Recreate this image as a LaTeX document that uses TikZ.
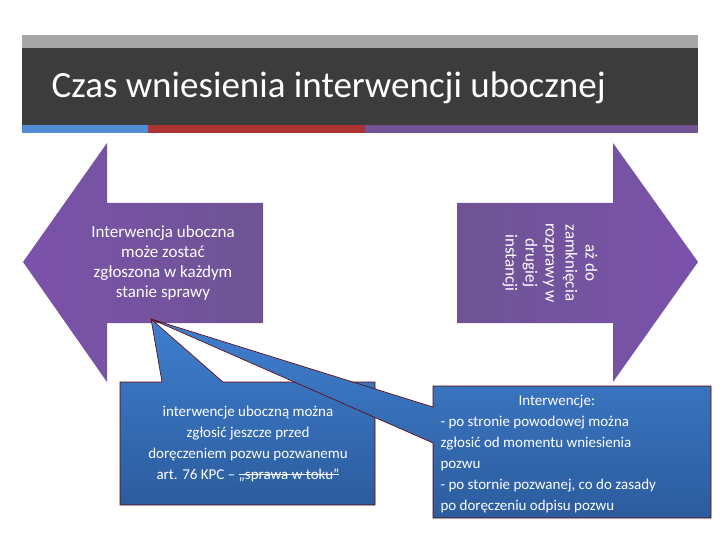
\documentclass[tikz,border=0pt]{standalone}
\usepackage{fontspec}
\setmainfont{Carlito}
\newlength\stklen
\newcommand\mystk[1]{\settowidth\stklen{#1}\rlap{\rule[0.6ex]{\stklen}{0.8pt}}#1}
\begin{document}
\begin{tikzpicture}[x=1pt,y=-1pt,
  txt/.style={text=white,align=center,font=\fontsize{17}{20}\selectfont}]
\useasboundingbox (0,0) rectangle (720,540);
\definecolor{pur}{HTML}{7B52AB}
\definecolor{purd}{HTML}{6E5494}
\definecolor{cbl}{HTML}{3F7FCF}
\definecolor{cbd}{HTML}{2C5C9E}
\definecolor{bar}{HTML}{3C3C3C}
\tikzset{callout/.style={top color=cbl,bottom color=cbd,draw=red!40!black,line width=0.6pt}}
% title bar
\fill[gray!70] (22,35) rectangle (698,48);
\fill[bar] (22,48) rectangle (698,125);
\fill[cbl!90!white] (22,125) rectangle (148,133);
\fill[red!60!black!80!white] (148,125) rectangle (365,133);
\fill[purd] (365,125) rectangle (698,133);
\node[anchor=west,text=white,font=\fontsize{37}{40}\selectfont] (title) at (48,88) {Czas wniesienia interwencji ubocznej};
% left arrow
\path[left color=pur,right color=purd] (23,262) -- (107,143) -- (107,203) -- (263,203) -- (263,323) -- (107,323) -- (107,382) -- cycle;
\node[txt] (lt) at (163,263) {Interwencja uboczna\\może zostać\\zgłoszona w każdym\\stanie sprawy};
% right arrow
\path[left color=purd,right color=pur] (457,203) -- (613,203) -- (613,143) -- (698,262) -- (613,382) -- (613,323) -- (457,323) -- cycle;
\node[txt,rotate=-90] (rt) at (550,263) {aż do\\zamknięcia\\rozprawy w\\drugiej\\instancji};
% callouts
\coordinate (p) at (151,319);
\draw[callout] (p) -- (162,382) -- (120,382) -- (120,505) -- (375,505) -- (375,382) -- (223,382) -- cycle;
\draw[callout] (p) -- (433,407) -- (433,386) -- (711,386) -- (711,518) -- (433,518) -- (433,443) -- cycle;
\node[txt,font=\fontsize{15}{21}\selectfont] (lc) at (248,444) {interwencje uboczną można\\zgłosić jeszcze przed\\doręczeniem pozwu pozwanemu\\art. 76 KPC – \mystk{„sprawa w toku”}};
\node[text=white,align=left,font=\fontsize{15}{21}\selectfont,anchor=north west] (rc) at (437,392) {\hspace*{78pt}Interwencje:\\- po stronie powodowej można\\zgłosić od momentu wniesienia\\pozwu\\- po stornie pozwanej, co do zasady\\po doręczeniu odpisu pozwu};
\end{tikzpicture}
\end{document}
